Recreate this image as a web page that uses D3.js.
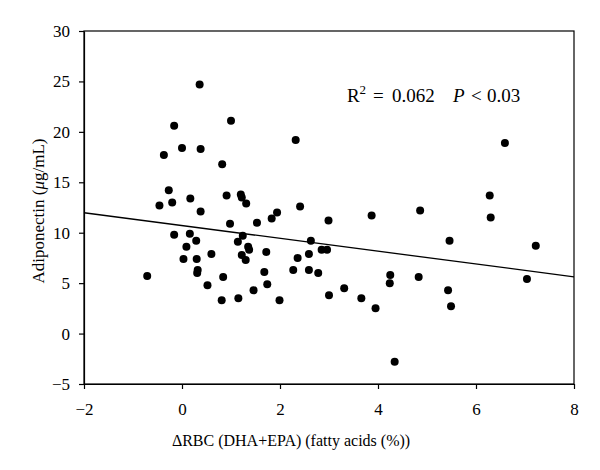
<!DOCTYPE html>
<html>
<head>
<meta charset="utf-8">
<script src="https://cdn.jsdelivr.net/npm/d3@7"></script>
<style>
  html, body { margin: 0; padding: 0; background: #fff; }
  svg { display: block; }
  text { font-family: "Liberation Serif", "DejaVu Serif", serif; fill: #000; }
</style>
</head>
<body>
<svg id="chart" width="600" height="470"></svg>
<script>
// Data
const xValues = [0.36, 1.00, -0.16, 2.32, 0.00, 0.38, -0.37, 0.82, -0.27, -0.46,
  -0.20, 0.17, 0.91, 1.20, 1.22, 1.31, 2.41, 0.38, 1.94, 1.83,
  0.98, 1.53, 2.99, 6.59, 6.28, 6.30, 4.86, 3.87,
  -0.16, 0.16, 0.09, 0.29, 0.03, 0.30, 0.60, 0.32, 0.31, -0.71,
  0.84, 0.52, 0.81, 1.15, 1.99, 1.46, 1.74, 1.68, 1.72, 1.14,
  1.24, 1.35, 1.37, 1.22, 1.30, 2.27, 2.36, 2.59, 2.63, 2.59,
  2.78, 2.85, 2.96, 3.00,
  3.31, 3.66, 3.95, 4.25, 4.24, 4.34, 4.83, 5.46, 5.43, 5.49, 7.22, 7.04];
const yValues = [24.7, 21.1, 20.6, 19.2, 18.4, 18.3, 17.7, 16.8, 14.2, 12.7,
  13.0, 13.4, 13.7, 13.8, 13.5, 12.9, 12.6, 12.1, 12.0, 11.4,
  10.9, 11.0, 11.2, 18.9, 13.7, 11.5, 12.2, 11.7,
  9.8, 9.9, 8.6, 9.2, 7.4, 7.4, 7.9, 6.3, 6.0, 5.7,
  5.6, 4.8, 3.3, 3.5, 3.3, 4.3, 4.9, 6.1, 8.1, 9.1,
  9.7, 8.6, 8.3, 7.8, 7.3, 6.3, 7.5, 7.9, 9.2, 6.3,
  6.0, 8.3, 8.3, 3.8,
  4.5, 3.5, 2.5, 5.8, 5.0, -2.8, 5.6, 9.2, 4.3, 2.7, 8.7, 5.4];
const fitLine = [[-2, 11.98], [8, 5.63]];
const xTicks = [-2, 0, 2, 4, 6, 8];
const yTicks = [-5, 0, 5, 10, 15, 20, 25, 30];

const points = xValues.map((x, i) => ({ x: x, y: yValues[i] }));

const svg = d3.select("#chart");
const pLeft = 84, pRight = 574, pTop = 31, pBottom = 384;

const x = d3.scaleLinear().domain([-2, 8]).range([pLeft, pRight]);
const y = d3.scaleLinear().domain([-5, 30]).range([pBottom, pTop]);

// Frame
svg.append("rect")
  .attr("x", pLeft).attr("y", pTop)
  .attr("width", pRight - pLeft).attr("height", pBottom - pTop)
  .attr("fill", "none").attr("stroke", "#000").attr("stroke-width", 1.2);

// Axes
const xAxis = svg.append("g")
  .attr("transform", `translate(0,${pBottom})`)
  .call(d3.axisBottom(x).tickValues(xTicks).tickSize(5).tickSizeOuter(0).tickPadding(14));
const yAxis = svg.append("g")
  .attr("transform", `translate(${pLeft},0)`)
  .call(d3.axisLeft(y).tickValues(yTicks).tickSize(5).tickSizeOuter(0).tickPadding(9));

[xAxis, yAxis].forEach(g => {
  g.select(".domain").attr("stroke", "#000").attr("stroke-width", 1.2);
  g.selectAll(".tick line").attr("stroke", "#000").attr("stroke-width", 1.2);
  g.selectAll(".tick text")
    .style("font-family", '"Liberation Serif", serif')
    .style("font-size", "17px").attr("fill", "#000");
});

// Regression line
svg.append("line")
  .attr("x1", x(fitLine[0][0])).attr("y1", y(fitLine[0][1]))
  .attr("x2", x(fitLine[1][0])).attr("y2", y(fitLine[1][1]))
  .attr("stroke", "#000").attr("stroke-width", 1.3);

// Points
svg.append("g").selectAll("circle")
  .data(points).join("circle")
  .attr("cx", d => x(d.x)).attr("cy", d => y(d.y))
  .attr("r", 4).attr("fill", "#000");

// Annotation
const ann = svg.append("text").attr("y", 102).style("font-size", "19px");
ann.append("tspan").attr("x", 347).text("R");
ann.append("tspan").attr("x", 359.5).attr("dy", -8).style("font-size", "13px").text("2");
ann.append("tspan").attr("x", 373).attr("dy", 8).text("=");
ann.append("tspan").attr("x", 392).text("0.062");
ann.append("tspan").attr("x", 453).style("font-style", "italic").text("P");
ann.append("tspan").attr("x", 471).text("<");
ann.append("tspan").attr("x", 487).text("0.03");

// Axis titles
svg.append("text")
  .attr("x", 291).attr("y", 446)
  .attr("text-anchor", "middle")
  .style("font-size", "16px")
  .text("ΔRBC (DHA+EPA) (fatty acids (%))");

const yt = svg.append("text")
  .attr("transform", "translate(44,211) rotate(-90)")
  .attr("text-anchor", "middle")
  .style("font-size", "17px");
yt.append("tspan").text("Adiponectin (");
yt.append("tspan").style("font-style", "italic").text("μ");
yt.append("tspan").text("g/mL)");
</script>
</body>
</html>
